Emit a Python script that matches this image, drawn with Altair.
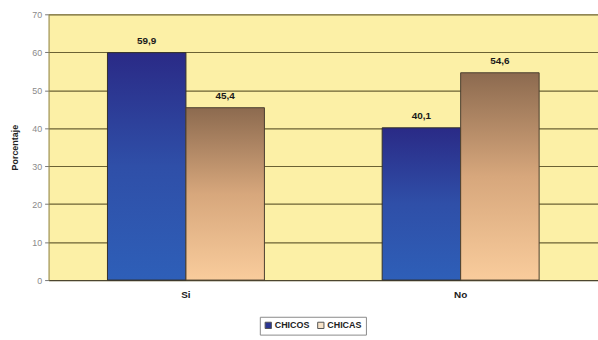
import altair as alt
import pandas as pd

# Survey answers by group (percent)
categorias = ["Si", "No"]
grupos = ["CHICOS", "CHICAS"]
chicos = [59.9, 40.1]
chicas = [45.4, 54.6]

filas = []
for i, cat in enumerate(categorias):
    filas.append({"respuesta": cat, "grupo": "CHICOS", "valor": chicos[i]})
    filas.append({"respuesta": cat, "grupo": "CHICAS", "valor": chicas[i]})
df = pd.DataFrame(filas)

FONT = "Liberation Sans"

grad_azul = alt.Gradient(
    gradient="linear",
    x1=0, y1=0, x2=0, y2=1,
    stops=[alt.GradientStop(color="#2a2a86", offset=0),
           alt.GradientStop(color="#2f4fa8", offset=0.5),
           alt.GradientStop(color="#2e5fb8", offset=1)],
)
grad_marron = alt.Gradient(
    gradient="linear",
    x1=0, y1=0, x2=0, y2=1,
    stops=[alt.GradientStop(color="#8c6a4f", offset=0),
           alt.GradientStop(color="#d7a77c", offset=0.5),
           alt.GradientStop(color="#f9cc9c", offset=1)],
)

x_enc = alt.X(
    "respuesta:N",
    sort=categorias,
    scale=alt.Scale(paddingInner=0, paddingOuter=0),
    axis=alt.Axis(title=None, labelAngle=0, labelFont=FONT, labelFontSize=10,
                  labelFontWeight="bold", labelColor="#222222", ticks=False,
                  labelPadding=10, domainColor="#4a4530", domainWidth=1),
)
xo_enc = alt.XOffset("grupo:N", sort=grupos,
                     scale=alt.Scale(paddingOuter=0.75, paddingInner=0))
y_enc = alt.Y(
    "valor:Q",
    scale=alt.Scale(domain=[0, 70], nice=False),
    axis=alt.Axis(title="Porcentaje", values=list(range(0, 71, 10)),
                  titleFont=FONT, titleFontSize=9, titleFontWeight="bold",
                  titleColor="#222222", titlePadding=12,
                  labelFont=FONT, labelFontSize=9, labelColor="#8a8a8a",
                  labelPadding=3, tickColor="#777777", tickSize=4,
                  domainColor="#8a8050", grid=True, gridColor="#6b6233",
                  gridWidth=1.2),
)

base = alt.Chart(df).encode(x=x_enc, xOffset=xo_enc, y=y_enc)

barras_chicos = base.transform_filter(alt.datum.grupo == "CHICOS").mark_bar(
    fill=grad_azul, stroke="#33302a", strokeWidth=1
)
barras_chicas = base.transform_filter(alt.datum.grupo == "CHICAS").mark_bar(
    fill=grad_marron, stroke="#4a3f30", strokeWidth=1
)

etiquetas = base.transform_calculate(
    texto="replace(format(datum.valor, '.1f'), '.', ',')"
).mark_text(dy=-12, font=FONT, fontSize=10, fontWeight="bold",
            color="#1a1a1a").encode(text="texto:N")

# Invisible marks that carry the group legend
leyenda = base.mark_square(size=0).encode(
    color=alt.Color(
        "grupo:N", sort=grupos,
        scale=alt.Scale(domain=grupos, range=["#2b3592", "#f6e2c8"]),
        legend=alt.Legend(
            title=None, orient="none", direction="horizontal",
            legendX=213, legendY=305,
            labelFont=FONT, labelFontSize=9, labelFontWeight="bold",
            labelColor="#222222", symbolType="square", symbolSize=40,
            symbolStrokeColor="#555555", symbolStrokeWidth=1,
            symbolOpacity=1, columnPadding=5, labelOffset=2,
            padding=4, strokeColor="#8a8a8a", fillColor="#ffffff",
        ),
    )
)

chart = alt.layer(barras_chicos, barras_chicas, etiquetas, leyenda).properties(
    width=554, height=268,
    autosize=alt.AutoSizeParams(type="none"),
    padding={"left": 49, "top": 13, "right": 0, "bottom": 59},
    background="#ffffff",
).configure_view(fill="#fcf0a6", stroke=None)

chart.save("out.html", embed_options={"renderer": "svg", "actions": False})
